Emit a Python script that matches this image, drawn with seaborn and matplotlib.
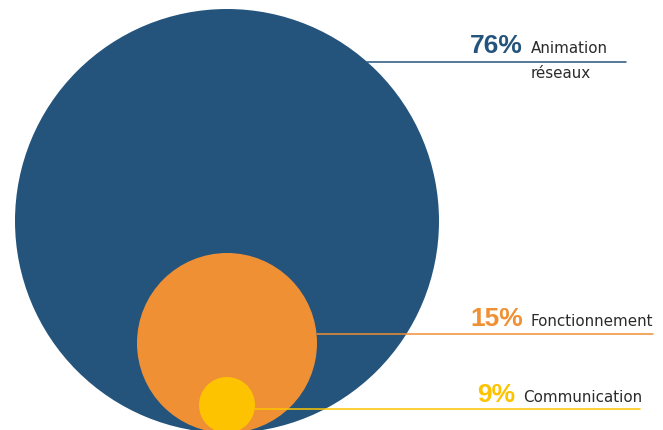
import matplotlib.pyplot as plt
from matplotlib.patches import Circle
import seaborn as sns

# chart data
categories = ["Animation\nréseaux", "Fonctionnement", "Communication"]
shares = [76, 15, 9]
palette = ["#24547C", "#F09035", "#FDC300"]

# drawing layout (pixels, y grows downwards)
radii = [212, 90, 28]
base_y = 433
center_x = 227
line_y = [62, 334, 409]
line_end = [626, 653, 640]
pct_right = [523, 523, 515]
text_base = [53, 326, 402]

sns.set_theme(style="white")
plt.rcParams["font.family"] = ["DejaVu Sans"]

fig = plt.figure(figsize=(6.63, 4.30), dpi=100)
ax = fig.add_axes([0, 0, 1, 1])
ax.set_xlim(0, 663)
ax.set_ylim(430, 0)
ax.set_aspect("equal")
ax.axis("off")

# nested circles, all resting on the same bottom line
for r, col in zip(radii, palette):
    ax.add_patch(Circle((center_x, base_y - r), r, color=col, lw=0, zorder=1))

# leader lines start at each circle's right edge
for i, (r, col) in enumerate(zip(radii, palette)):
    cy = base_y - r
    dy = line_y[i] - cy
    x0 = center_x + max(r * r - dy * dy, 0) ** 0.5
    sns.lineplot(x=[x0, line_end[i]], y=[line_y[i], line_y[i]], ax=ax,
                 color=col, linewidth=1.1, zorder=2)

for i, (cat, val, col) in enumerate(zip(categories, shares, palette)):
    ax.text(pct_right[i], text_base[i], f"{val}%", color=col, fontsize=19,
            fontweight="bold", family=["Liberation Sans", "DejaVu Sans"],
            ha="right", va="baseline", zorder=3)
    for k, part in enumerate(cat.split("\n")):
        ax.text(pct_right[i] + 8, text_base[i] + k * 25, part, color="#2b2b2b",
                fontsize=10.9, family="DejaVu Sans", ha="left", va="baseline",
                zorder=3)

fig.savefig("out.png", dpi=100)
